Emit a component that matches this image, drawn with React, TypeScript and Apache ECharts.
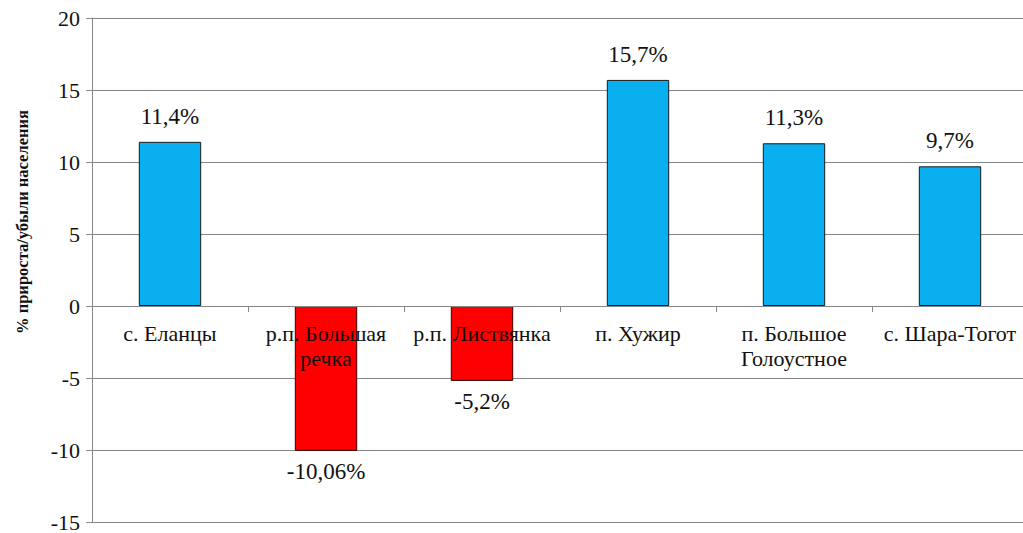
import React, { useEffect, useRef } from "react";
import * as echarts from "echarts";

const categories = [
  "с. Еланцы",
  "р.п. Большая\nречка",
  "р.п. Листвянка",
  "п. Хужир",
  "п. Большое\nГолоустное",
  "с. Шара-Тогот",
];
const values = [11.4, -10.06, -5.2, 15.7, 11.3, 9.7];
const labels = ["11,4%", "-10,06%", "-5,2%", "15,7%", "11,3%", "9,7%"];
const yMin = -15;
const yMax = 20;
const yStep = 5;
const yTitle = "% прироста/убыли населения";

const FONT = "Liberation Serif, serif";

const GRID_TOP = 18;
const GRID_BOTTOM = 11;
const H = 533;

export default function App() {
  const ref = useRef<HTMLDivElement>(null);
  useEffect(() => {
    if (!ref.current) return;
    const chart = echarts.init(ref.current, undefined, { renderer: "svg" });
    const plotH = H - GRID_TOP - GRID_BOTTOM;
    const zeroOffset = (plotH * yMax) / (yMax - yMin);
    chart.setOption({
      animation: false,
      backgroundColor: "#ffffff",
      textStyle: { fontFamily: FONT },
      grid: {
        left: 92,
        top: GRID_TOP,
        width: 936,
        bottom: GRID_BOTTOM,
        containLabel: false,
        outerBoundsMode: "none",
      },
      xAxis: {
        type: "category",
        data: categories,
        position: "top",
        offset: -zeroOffset,
        axisLine: { onZero: false, lineStyle: { color: "#868686", width: 1 } },
        axisTick: { show: true, inside: true, length: 6, lineStyle: { color: "#868686" } },
        axisLabel: {
          inside: true,
          color: "#111",
          fontFamily: FONT,
          fontSize: 22,
          margin: 15,
          lineHeight: 25,
          interval: 0,
          verticalAlign: "top",
        },
        z: 5,
      },
      yAxis: {
        type: "value",
        min: yMin,
        max: yMax,
        interval: yStep,
        axisLine: { show: true, lineStyle: { color: "#868686" } },
        axisTick: { show: true, length: 6, lineStyle: { color: "#868686" } },
        axisLabel: {
          color: "#111",
          fontFamily: FONT,
          fontSize: 22,
          margin: 12,
        },
        splitLine: { show: true, lineStyle: { color: "#868686", width: 1 } },
      },
      graphic: [
        {
          type: "text",
          x: 22,
          y: 222,
          rotation: Math.PI / 2,
          style: {
            text: yTitle,
            fontFamily: FONT,
            fontSize: 16.5,
            fontWeight: "bold",
            fill: "#111",
            align: "center",
            verticalAlign: "middle",
          },
        },
      ],
      series: [
        {
          type: "bar",
          barWidth: "40%",
          data: values.map((v, i) => ({
            value: v,
            itemStyle: {
              color: v >= 0 ? "#0AAFEF" : "#FF0000",
              borderColor: v >= 0 ? "#1a1a1a" : "#3a0000",
              borderWidth: 1,
            },
            label: {
              show: true,
              position: v >= 0 ? "top" : "bottom",
              distance: v >= 0 ? 14 : 9,
              formatter: labels[i],
              color: "#111",
              fontFamily: FONT,
              fontSize: 23,
            },
          })),
        },
      ],
    });
    return () => chart.dispose();
  }, []);
  return (
    <div
      ref={ref}
      style={{ position: "fixed", left: 0, top: 0, width: 1023, height: 533 }}
    />
  );
}
